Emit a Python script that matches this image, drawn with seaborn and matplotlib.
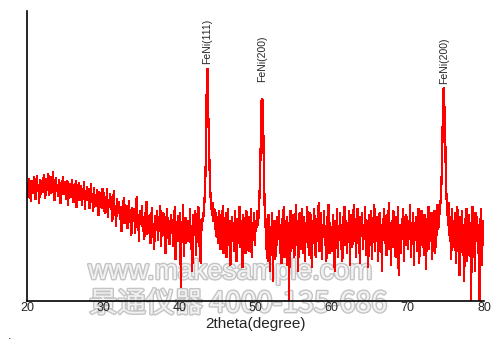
import numpy as np
import pandas as pd
import matplotlib
matplotlib.use("Agg")
import matplotlib.pyplot as plt
import matplotlib.patheffects as pe
import seaborn as sns

# 2theta grid start/step and intensities (one row per degree)
theta_start = 20.0
theta_step = 0.1
intensity = [
    110,118,104,122,112,100,120,115,108,124,
    113,102,119,125,110,116,98,121,107,118,
    120,109,126,114,103,122,117,111,127,106,
    118,124,108,115,129,112,101,119,123,110,
    116,105,121,113,98,118,110,124,107,114,
    119,102,112,120,96,115,108,117,104,121,
    111,99,116,106,120,94,113,109,118,101,
    107,115,96,112,104,119,92,110,101,114,
    103,112,93,108,117,99,105,90,113,97,
    106,95,111,100,86,109,98,104,93,112,
    99,108,88,103,96,112,84,101,94,107,
    92,104,80,97,110,86,95,75,102,90,
    88,99,82,94,70,91,85,103,78,96,
    84,95,73,89,100,79,87,66,93,81,
    80,92,68,86,104,75,83,60,90,77,
    78,95,70,84,62,88,74,99,67,82,
    75,86,58,80,93,64,77,52,85,71,
    73,90,61,82,70,95,55,78,66,88,
    70,84,48,76,92,63,80,57,74,86,
    68,81,55,73,94,42,77,64,85,60,
    72,88,14,79,62,96,45,70,83,58,
    74,60,80,60,92,52,75,30,86,66,
    70,90,46,78,62,94,55,81,38,73,
    76,88,85,100,118,150,218,232,186,158,
    122,104,96,86,98,80,92,72,88,64,
    84,58,90,70,52,86,66,95,48,78,
    68,88,44,74,92,56,80,36,70,84,
    60,78,50,90,66,40,82,58,74,94,
    54,80,68,34,86,62,76,48,90,66,
    72,50,84,60,92,44,78,64,88,56,
    80,70,90,76,85,100,125,165,200,202,
    184,130,95,82,52,70,40,86,62,30,
    74,46,88,20,66,80,42,70,56,84,
    64,90,48,76,38,82,58,94,44,72,
    60,84,36,78,1,68,90,50,76,62,
    86,44,72,96,56,80,30,74,88,52,
    70,92,48,64,84,40,78,60,94,54,
    76,46,88,62,34,80,58,92,70,44,
    82,60,74,98,50,66,88,42,76,64,
    90,56,72,40,84,68,96,48,78,62,
    74,50,86,64,30,80,58,92,44,72,
    66,88,52,76,40,84,62,94,56,80,
    48,78,64,90,36,72,86,54,68,96,
    60,82,44,74,92,58,70,38,84,66,
    88,52,76,62,94,46,80,68,34,86,
    72,56,90,42,78,64,96,50,74,60,
    84,40,70,88,54,76,30,82,62,92,
    58,74,46,86,66,98,52,78,36,80,
    64,90,54,72,44,84,60,94,26,76,
    70,48,82,62,92,40,74,58,86,66,
    52,80,68,96,44,74,60,88,36,78,
    66,84,50,72,92,38,80,62,90,56,
    74,46,86,60,32,82,70,94,52,78,
    64,88,42,76,58,90,48,80,66,96,
    72,84,90,100,115,141,190,213,194,169,
    120,100,88,76,98,60,84,42,92,68,
    80,54,88,38,74,94,50,78,26,84,
    66,90,46,76,20,82,58,92,40,72,
    86,52,78,1,64,94,44,80,30,88,
    60,84,48,76,1,70,92,36,80,56,
    74,
]

peak_labels = ["FeNi(111)", "FeNi(200)", "FeNi(200)"]
peak_theta = [43.7, 50.9, 74.7]
peak_label_y = [237, 219, 217]

x_ticks = [20, 30, 40, 50, 60, 70, 80]
x_label = "2theta(degree)"
watermark1 = "www.makesample.com"
watermark2 = "景通仪器 4000-135-686"

theta = theta_start + theta_step * np.arange(len(intensity))
df = pd.DataFrame({"theta": theta, "intensity": intensity})

sns.set_style("white")
plt.rcParams["font.family"] = ["Liberation Sans", "DejaVu Sans"]

fig = plt.figure(figsize=(5.0, 3.44), dpi=100, facecolor="white")
ax = fig.add_axes([27/500, 1-301/344, 457/500, 290/344])
ax.set_zorder(2)
ax.patch.set_alpha(0)

sns.lineplot(data=df, x="theta", y="intensity", ax=ax, color="#ff0000",
             linewidth=0.9, sort=False, estimator=None, antialiased=False)

ax.set_xlim(20, 80)
ax.set_ylim(0, 290)
ax.set_xticks(x_ticks)
ax.set_xticklabels([str(t) for t in x_ticks])
ax.set_yticks([])
ax.tick_params(axis="x", length=0, pad=1, labelsize=9)
ax.set_xlabel(x_label, fontsize=11, labelpad=2)
ax.set_ylabel("")
for s in ["top", "right"]:
    ax.spines[s].set_visible(False)
for s in ["left", "bottom"]:
    ax.spines[s].set_color("black")
    ax.spines[s].set_linewidth(1.2)

for lab, px, py in zip(peak_labels, peak_theta, peak_label_y):
    ax.text(px, py, lab, rotation=90, ha="center", va="bottom", fontsize=7.5)

effects = [pe.withStroke(linewidth=2.0, foreground="#c4c4c4")]
fig.text(230/500, 1-272/344, watermark1, ha="center", va="center",
         fontsize=20, color="#f2f2f2", path_effects=effects,
         family=["Liberation Sans", "DejaVu Sans"], zorder=1)
fig.text(238/500, 1-304/344, watermark2, ha="center", va="center",
         fontsize=20.5, color="#f2f2f2", path_effects=effects,
         family=["Noto Sans CJK SC", "DejaVu Sans"], zorder=1)

fig.text(8/500, 1-342/344, ".", fontsize=9, ha="left", va="bottom")

fig.savefig("out.png", dpi=100, facecolor="white")
